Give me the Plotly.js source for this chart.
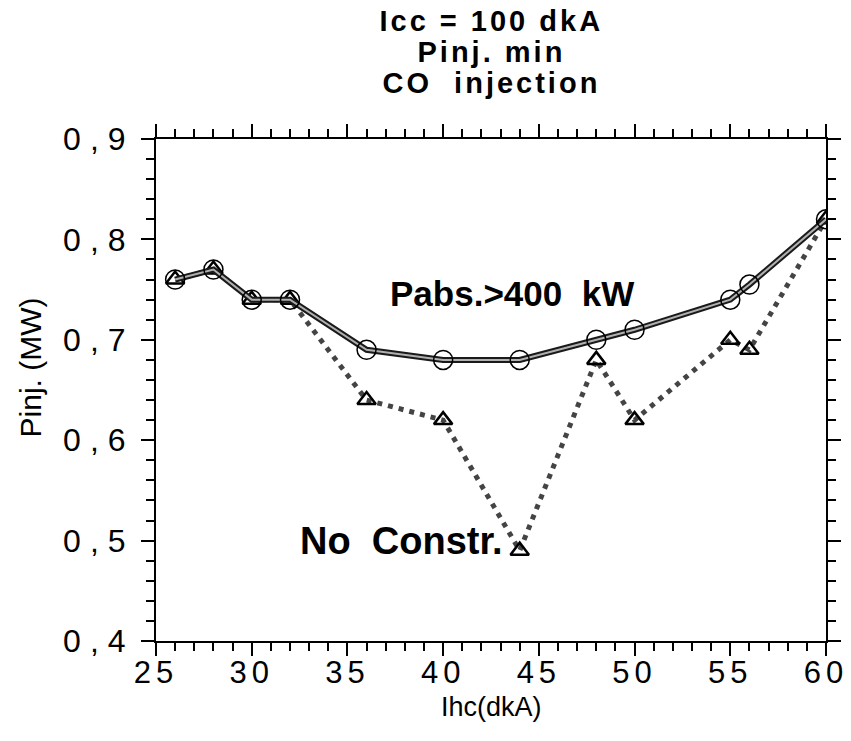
<!DOCTYPE html>
<html>
<head>
<meta charset="utf-8">
<script src="https://cdn.plot.ly/plotly-3.0.1.min.js"></script>
<style>
html,body{margin:0;padding:0;background:#fff;}
#chart{width:851px;height:741px;}
.xtick text { letter-spacing: 5px; }
.ytick text { letter-spacing: 9px; }
.annotation[data-index="0"] text,
.annotation[data-index="1"] text,
.annotation[data-index="2"] text { letter-spacing: 3px; }
</style>
</head>
<body>
<div id="chart"></div>
<script>
const ihc = [26, 28, 30, 32, 36, 40, 44, 48, 50, 55, 56, 60];
const pinjPabs = [0.76, 0.77, 0.74, 0.74, 0.69, 0.68, 0.68, 0.70, 0.71, 0.74, 0.755, 0.82];
const pinjNoConstr = [0.76, 0.77, 0.74, 0.74, 0.64, 0.62, 0.49, 0.68, 0.62, 0.70, 0.69, 0.82];
const titleLines = ['Icc = 100 dkA', 'Pinj. min', 'CO  injection'];
const xTitle = 'Ihc(dkA)';
const yTitle = 'Pinj. (MW)';
const labelPabs = 'Pabs.>400  kW';
const labelNoConstr = 'No  Constr.';

const FONT = 'Liberation Sans, Arial, Helvetica, sans-serif';

const traces = [
  {x: ihc, y: pinjNoConstr, mode: 'lines', line: {color: '#444', width: 5, dash: '5px,6px'}},
  {x: ihc, y: pinjNoConstr, mode: 'markers', marker: {symbol: 'triangle-up-open', size: 16, color: '#000', line: {width: 2.5, color: '#000'}}},
  {x: ihc, y: pinjPabs, mode: 'lines', line: {color: '#1a1a1a', width: 6}},
  {x: ihc, y: pinjPabs, mode: 'lines', line: {color: '#b0b0b0', width: 2}},
  {x: ihc, y: pinjPabs, mode: 'markers', marker: {symbol: 'circle-open', size: 19, color: '#000', line: {width: 1.5, color: '#000'}}}
];

const axisCommon = {
  showgrid: false, zeroline: false, showline: true, linecolor: '#000', linewidth: 2,
  mirror: 'allticks', ticks: 'outside', ticklen: 13, tickwidth: 2, tickcolor: '#000'
};

const titleAnnotations = titleLines.map((t, i) => ({
  xref: 'paper', yref: 'paper', x: 0.5, y: 1 + (118 - 31 * i) / 502,
  text: '<b>' + t + '</b>', showarrow: false, xanchor: 'center', yanchor: 'middle',
  font: {family: FONT, size: 29, color: '#000'}
}));

const layout = {
  width: 851, height: 741,
  margin: {l: 156, r: 25, t: 139, b: 100},
  paper_bgcolor: '#fff', plot_bgcolor: '#fff',
  showlegend: false,
  separators: ',.',
  xaxis: Object.assign({}, axisCommon, {
    range: [25, 60], dtick: 5, tick0: 25, ticklabelstandoff: -10,
    tickfont: {family: FONT, size: 31, color: '#000'},
    minor: {dtick: 1, ticks: 'outside', ticklen: 8, tickwidth: 2, tickcolor: '#000'}
  }),
  yaxis: Object.assign({}, axisCommon, {
    range: [0.4, 0.9], dtick: 0.1, tick0: 0.4, tickformat: '.1f',
    tickfont: {family: FONT, size: 32, color: '#000'},
    minor: {dtick: 0.02, ticks: 'outside', ticklen: 8, tickwidth: 2, tickcolor: '#000'}
  }),
  annotations: titleAnnotations.concat([
    {xref: 'paper', yref: 'paper', x: 0.5, y: -66 / 502, text: xTitle, showarrow: false,
     xanchor: 'center', yanchor: 'middle', font: {family: FONT, size: 27, color: '#000'}},
    {xref: 'paper', yref: 'paper', x: -126 / 670, y: 0.545, text: yTitle, showarrow: false, textangle: -90,
     xanchor: 'center', yanchor: 'middle', font: {family: FONT, size: 30, color: '#000'}},
    {x: 43.6, y: 0.746, xref: 'x', yref: 'y', text: '<b>' + labelPabs + '</b>', showarrow: false,
     xanchor: 'center', yanchor: 'middle', font: {family: FONT, size: 35, color: '#000'}},
    {x: 32.4, y: 0.5, xref: 'x', yref: 'y', text: '<b>' + labelNoConstr + '</b>', showarrow: false,
     xanchor: 'left', yanchor: 'middle', font: {family: FONT, size: 38, color: '#000'}}
  ])
};

Plotly.newPlot('chart', traces, layout, {displayModeBar: false, staticPlot: true});
</script>
</body>
</html>
